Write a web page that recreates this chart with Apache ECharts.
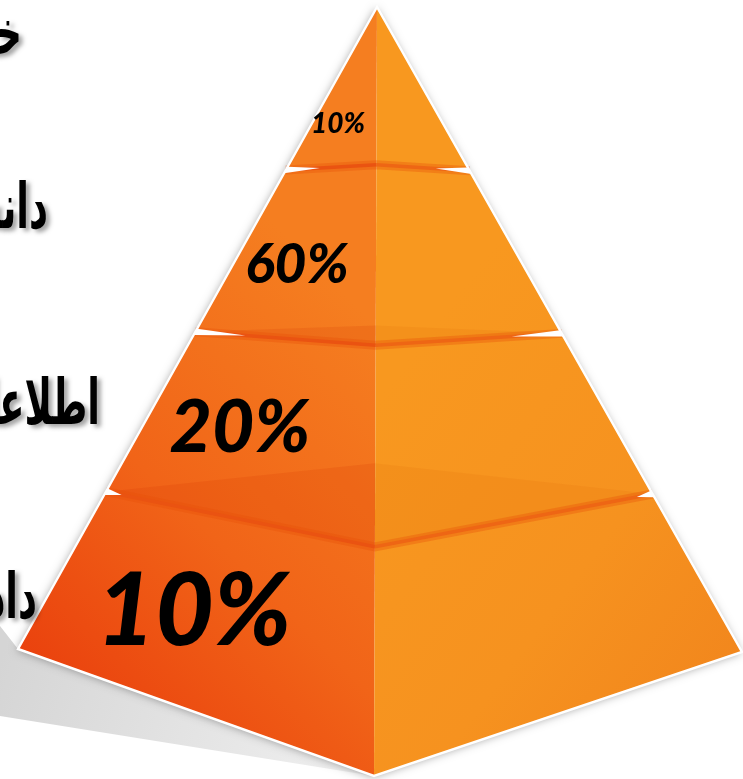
<!DOCTYPE html>
<html>
<head>
<meta charset="utf-8">
<script src="https://cdn.jsdelivr.net/npm/echarts@6/dist/echarts.min.js"></script>
<style>
  html, body { margin: 0; padding: 0; background: #ffffff; }
  #chart { width: 743px; height: 779px; }
</style>
</head>
<body>
<div id="chart"></div>
<script>
// DIKW pyramid: tier names from the apex down, and the share printed on each tier
const tiers = ['خرد', 'دانش', 'اطلاعات', 'داده'];
const shares = [10, 60, 20, 10];

// Pyramid model in plot units (x to the right, y downward)
const scene = {
  apex: [377, 7],
  baseLeft: [18, 649],
  baseFront: [374, 776],
  baseRight: [742, 652],
  // tier boundaries as fractions along the side edges and along the front ridge
  edgeCuts: [0, 0.254, 0.506, 0.755, 1],
  ridgeCuts: [0, 0.205, 0.44, 0.702, 1],
  // length of the white notch where two tiers meet on the outline
  notchLen: [34, 50, 16]
};

// Text placement and sizes
const shareLabelStyle = [
  { at: [338, 124], size: 28 },
  { at: [297, 265], size: 55 },
  { at: [240, 428], size: 73 },
  { at: [194, 612], size: 101 }
];
const tierLabelStyle = [
  { right: 22, y: 38, size: 56 },
  { right: 48, y: 212, size: 56 },
  { right: 100, y: 408, size: 56 },
  { right: 37, y: 602, size: 56 }
];
// narrow, tall lettering for the tier names
const tierScale = [0.66, 1.12];

function lerp(a, b, t) {
  return [a[0] + (b[0] - a[0]) * t, a[1] + (b[1] - a[1]) * t];
}
function along(from, to, len) {
  const dx = to[0] - from[0], dy = to[1] - from[1];
  const d = Math.sqrt(dx * dx + dy * dy);
  return [from[0] + dx / d * len, from[1] + dy / d * len];
}
const sideL = t => lerp(scene.apex, scene.baseLeft, t);
const sideR = t => lerp(scene.apex, scene.baseRight, t);
const ridge = r => lerp(scene.apex, scene.baseFront, r);

const chart = echarts.init(document.getElementById('chart'), null, { renderer: 'canvas' });

function toPx(api, pts) { return pts.map(p => api.coord(p)); }

// Faces of each tier
function renderTier(params, api) {
  const i = api.value(0);
  const t0 = scene.edgeCuts[i], t1 = scene.edgeCuts[i + 1];
  const r0 = scene.ridgeCuts[i], r1 = scene.ridgeCuts[i + 1];
  const leftPts = toPx(api, [sideL(t0), ridge(r0), ridge(r1), sideL(t1)]);
  const rightPts = toPx(api, [ridge(r0), sideR(t0), sideR(t1), ridge(r1)]);
  const bl = api.coord(scene.baseLeft), ap = api.coord(scene.apex);
  const br = api.coord(scene.baseRight);
  const leftFill = new echarts.graphic.LinearGradient(bl[0], bl[1], ap[0] - 20, ap[1] + 300, [
    { offset: 0, color: '#ea420e' },
    { offset: 0.45, color: '#f16418' },
    { offset: 1, color: '#f57e20' }
  ], true);
  const rightFill = new echarts.graphic.LinearGradient(ap[0] + 10, ap[1] + 380, br[0], br[1], [
    { offset: 0, color: '#f8981f' },
    { offset: 0.6, color: '#f6921f' },
    { offset: 1, color: '#f2871d' }
  ], true);
  return {
    type: 'group',
    children: [
      { type: 'polygon', shape: { points: leftPts }, style: { fill: leftFill } },
      { type: 'polygon', shape: { points: rightPts }, style: { fill: rightFill } }
    ]
  };
}

// Seams between tiers: visible top face of the lower tier, dark crease and white notches
function renderSeam(params, api) {
  const k = api.value(0);
  const t = scene.edgeCuts[k], r = scene.ridgeCuts[k];
  const L = sideL(t), R = sideR(t), F = ridge(r);
  const children = [];
  const depth = F[1] - (L[1] + R[1]) / 2;
  if (depth > 4) {
    const B = [F[0], (L[1] + R[1]) / 2 - depth * 0.55];
    children.push({ type: 'polygon', shape: { points: toPx(api, [L, B, F]) },
      style: { fill: 'rgba(214,52,0,0.16)' } });
    children.push({ type: 'polygon', shape: { points: toPx(api, [B, R, F]) },
      style: { fill: 'rgba(214,92,0,0.10)' } });
  }
  // soft shadow band along the crease
  children.push({ type: 'polyline', shape: { points: toPx(api, [L, F, R]) },
    style: { stroke: 'rgba(232,80,10,0.35)', lineWidth: 9, fill: null } });
  children.push({ type: 'polyline', shape: { points: toPx(api, [L, F]) },
    style: { stroke: '#ea5311', lineWidth: 3.5, fill: null } });
  children.push({ type: 'polyline', shape: { points: toPx(api, [F, R]) },
    style: { stroke: '#ee6614', lineWidth: 3.5, fill: null } });
  const len = scene.notchLen[k - 1];
  const dt = 3.2 / 642;
  children.push({ type: 'polygon', shape: { points: toPx(api, [sideL(t - dt), along(L, F, len), sideL(t + dt)]) },
    style: { fill: '#ffffff' } });
  children.push({ type: 'polygon', shape: { points: toPx(api, [sideR(t - dt), along(R, F, len), sideR(t + dt)]) },
    style: { fill: '#ffffff' } });
  return { type: 'group', children };
}

// Cast shadow and raised white silhouette behind the pyramid
function renderBackdrop(params, api) {
  const s = scene;
  const cast = toPx(api, [[0, 626], s.baseLeft, s.baseFront, [0, 716]]);
  const a = api.coord([0, 660]), b = api.coord(s.baseFront);
  return {
    type: 'group',
    children: [
      { type: 'polygon', shape: { points: cast },
        style: { fill: new echarts.graphic.LinearGradient(a[0], a[1], b[0], b[1], [
          { offset: 0, color: '#d5d5d5' }, { offset: 1, color: '#f1f1f1' }], true) } },
      { type: 'polygon', shape: { points: toPx(api, [s.apex, s.baseLeft, s.baseFront, s.baseRight]) },
        style: { fill: '#ffffff', shadowBlur: 9, shadowColor: 'rgba(0,0,0,0.35)', shadowOffsetX: -1, shadowOffsetY: 1 } }
    ]
  };
}

function renderOutline(params, api) {
  const s = scene;
  return {
    type: 'polygon',
    shape: { points: toPx(api, [s.apex, s.baseLeft, s.baseFront, s.baseRight]) },
    style: { fill: null, stroke: '#ffffff', lineWidth: 2.4, lineJoin: 'miter' }
  };
}

// Share printed on each tier and tier name at the left margin
function renderLabels(params, api) {
  const i = api.value(0);
  const share = api.value(1);
  const sl = shareLabelStyle[i], tl = tierLabelStyle[i];
  const p = api.coord(sl.at);
  const q = api.coord([tl.right, tl.y]);
  return {
    type: 'group',
    children: [
      { type: 'text', style: {
          x: p[0], y: p[1], text: share + '%', align: 'center', verticalAlign: 'middle',
          fill: '#000000', font: 'italic 900 ' + sl.size + 'px Lato, "Open Sans", sans-serif' } },
      { type: 'text', x: q[0], y: q[1], scaleX: tierScale[0], scaleY: tierScale[1],
        style: {
          x: 0, y: 0, text: tiers[i], align: 'right', verticalAlign: 'middle',
          fill: '#000000', font: 'bold ' + tl.size + 'px "DejaVu Sans", sans-serif',
          textShadowColor: 'rgba(0,0,0,0.35)', textShadowBlur: 4,
          textShadowOffsetX: 4, textShadowOffsetY: 3 } }
    ]
  };
}

const tierData = tiers.map((name, i) => [i, shares[i]]);
const seamData = [[1], [2], [3]];

chart.setOption({
  animation: false,
  backgroundColor: '#ffffff',
  grid: { left: 0, right: 0, top: 0, bottom: 0 },
  xAxis: { type: 'value', min: 0, max: 743, show: false },
  yAxis: { type: 'value', min: 0, max: 779, inverse: true, show: false },
  series: [
    { type: 'custom', z: 1, renderItem: renderBackdrop, data: [[0, 0]], silent: true },
    { type: 'custom', z: 2, renderItem: renderTier, data: tierData, silent: true },
    { type: 'custom', z: 3, renderItem: renderSeam, data: seamData, silent: true },
    { type: 'custom', z: 4, renderItem: renderOutline, data: [[0, 0]], silent: true },
    { type: 'custom', z: 5, renderItem: renderLabels, data: tierData, silent: true }
  ]
});
</script>
</body>
</html>
